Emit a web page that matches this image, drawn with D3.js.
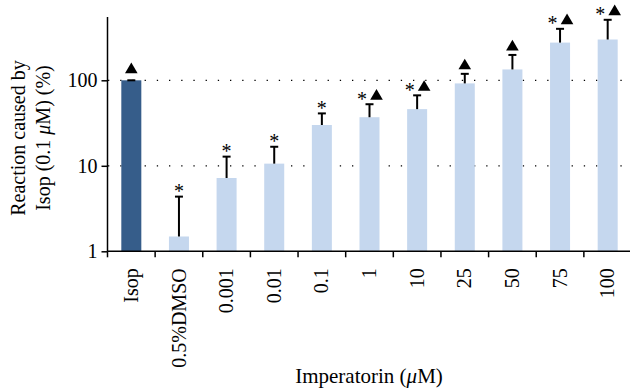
<!DOCTYPE html>
<html><head><meta charset="utf-8">
<script src="https://cdn.jsdelivr.net/npm/d3@7"></script>
<style>body{margin:0;background:#fff}svg{display:block}text{font-family:"Liberation Serif","Times New Roman",serif;fill:#000}</style>
</head><body><svg id="c" width="630" height="388"></svg>
<script>
const categories = ["Isop","0.5%DMSO","0.001","0.01","0.1","1","10","25","50","75","100"];
const means = [100, 1.49, 7.2, 10.6, 30, 37, 46, 92, 134, 276, 300];
const errTops = [100, 4.36, 12.8, 16.7, 41, 52.5, 66.7, 119, 198, 400, 510];
const stars = [false, true, true, true, true, true, true, false, false, true, true];
const triangles = [true, false, false, false, false, true, true, true, true, true, true];
const yTicks = [1, 10, 100];
const gridValues = [10, 100];

const svg = d3.select("#c");
const x = d3.scaleBand().domain(categories).range([107.5, 631.5]).paddingInner(0.58).paddingOuter(0.29);
const y = d3.scaleLog().domain([1, 550]).range([251.3, 17]);
const step = x.step(), bw = x.bandwidth();
const cx = d => x(d) + bw / 2;

// gridlines
svg.append("g").selectAll("line").data(gridValues).join("line")
  .attr("x1", 108).attr("x2", 631).attr("y1", d => y(d)).attr("y2", d => y(d))
  .attr("stroke", "#000").attr("stroke-width", 1.3).attr("stroke-dasharray", "1.3 10.9");

// bars
svg.append("g").selectAll("rect").data(categories).join("rect")
  .attr("x", d => x(d)).attr("width", bw)
  .attr("y", (d, i) => y(means[i])).attr("height", (d, i) => y(1) - y(means[i]))
  .attr("fill", (d, i) => i === 0 ? "#365d8a" : "#c5d7ee");

// error bars
const eg = svg.append("g").attr("stroke", "#000").attr("stroke-width", 2);
categories.forEach((d, i) => {
  eg.append("line").attr("x1", cx(d)).attr("x2", cx(d)).attr("y1", y(means[i])).attr("y2", y(errTops[i]));
  eg.append("line").attr("x1", cx(d) - 4).attr("x2", cx(d) + 4).attr("y1", y(errTops[i])).attr("y2", y(errTops[i]));
});

// annotations
categories.forEach((d, i) => {
  const both = stars[i] && triangles[i];
  const top = y(errTops[i]);
  if (stars[i]) {
    svg.append("text").attr("x", cx(d) + (both ? -7.5 : 0)).attr("y", top + 1.5)
      .attr("text-anchor", "middle").style("font-size", "20px").text("*");
  }
  if (triangles[i]) {
    const tx = cx(d) + (both ? 7 : 0), tb = top - (i === 0 ? 7 : 4.5);
    svg.append("path").attr("d", `M${tx - 6.3},${tb}L${tx + 6.3},${tb}L${tx},${tb - 10.7}Z`).attr("fill", "#000");
  }
});

// y axis
const ya = svg.append("g").attr("transform", "translate(107.5,0)")
  .call(d3.axisLeft(y).tickValues(yTicks).tickFormat(d3.format("d")).tickSize(6).tickPadding(4));
ya.select(".domain").attr("d", `M0,17V${y(1)}`).attr("stroke-width", 1.5);
ya.selectAll(".tick line").attr("stroke-width", 1.5);
ya.selectAll("text").style("font-size", "20px").style("font-family", "Liberation Serif");

// x axis
const xa = svg.append("g").attr("transform", `translate(0,${y(1)})`)
  .call(d3.axisBottom(x).tickSize(0).tickPadding(0));
xa.select(".domain").attr("d", "M107.5,0H631").attr("stroke-width", 1.5);
xa.selectAll("text").style("font-size", "20px").style("font-family", "Liberation Serif")
  .attr("text-anchor", "end").attr("transform", "translate(0,17) rotate(-90)")
  .attr("x", 0).attr("y", 0).attr("dy", "0.33em");
xa.selectAll(".tickmark").data(categories).join("line").attr("class", "tickmark")
  .attr("x1", d => x(d) + bw / 2 - step / 2).attr("x2", d => x(d) + bw / 2 - step / 2)
  .attr("y1", 0).attr("y2", 6).attr("stroke", "#000").attr("stroke-width", 1.5);

// titles
svg.append("text").attr("x", 369).attr("y", 383).attr("text-anchor", "middle").style("font-size", "21px")
  .html('Imperatorin (<tspan font-style="italic">μ</tspan>M)');
const yt = svg.append("g").attr("transform", "translate(0,138) rotate(-90)");
yt.append("text").attr("x", 0).attr("y", 25).attr("text-anchor", "middle").style("font-size", "20px").text("Reaction caused by");
yt.append("text").attr("x", 0).attr("y", 50).attr("text-anchor", "middle").style("font-size", "20px")
  .html('Isop (0.1 <tspan font-style="italic">μ</tspan>M) (%)');
</script></body></html>
